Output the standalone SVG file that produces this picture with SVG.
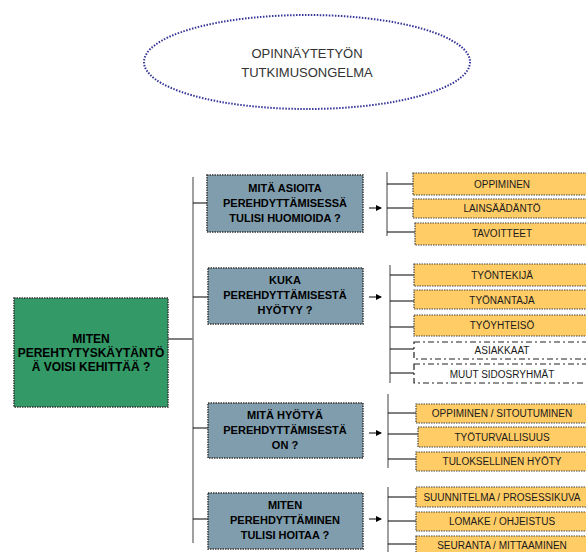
<svg xmlns="http://www.w3.org/2000/svg" width="586" height="552" viewBox="0 0 586 552">
<style>
.bg{fill:#ffffff}
.ell{fill:#ffffff;stroke:#333399;stroke-width:2;stroke-dasharray:1.5 1.5}
.et{font-family:"Liberation Sans",Arial,sans-serif;font-size:13px;fill:#333333;text-anchor:middle}
.green{fill:#339966;stroke:#333333;stroke-width:1.5;stroke-dasharray:1.5 1}
.blue{fill:#7F9DAD;stroke:#333333;stroke-width:1.5;stroke-dasharray:1.5 1}
.org{fill:#FFCC66;stroke:#444444;stroke-width:1.2;stroke-dasharray:1.5 1}
.dd{fill:#ffffff;stroke:#222222;stroke-width:1.2;stroke-dasharray:6 3 2 3}
.bt{font-family:"Liberation Sans",Arial,sans-serif;font-size:11px;font-weight:bold;fill:#000000;text-anchor:middle}
.gt{font-family:"Liberation Sans",Arial,sans-serif;font-size:12px;font-weight:bold;fill:#000000;text-anchor:middle}
.ot{font-family:"Liberation Sans",Arial,sans-serif;font-size:10px;fill:#1a1a1a;text-anchor:middle}
.trunk{stroke:#808080;stroke-width:1.5;fill:none}
.br{stroke:#000000;stroke-width:1;fill:none}
.arr{stroke:#000000;stroke-width:1;fill:none;marker-end:url(#ah)}
</style>
<defs>
<marker id="ah" markerWidth="6" markerHeight="6" refX="5" refY="3" orient="auto" markerUnits="userSpaceOnUse">
<path d="M0,0 L6,3 L0,6 Z" fill="#000000"/>
</marker>
</defs>
<rect class="bg" x="0" y="0" width="586" height="552"/>

<g id="connectors">
<line class="br" x1="168" y1="339" x2="193" y2="339"/>
<line class="trunk" x1="193" y1="177" x2="193" y2="543"/>
<line class="br" x1="193" y1="203" x2="207" y2="203"/>
<line class="br" x1="193" y1="297" x2="208" y2="297"/>
<line class="br" x1="193" y1="428" x2="208" y2="428"/>
<line class="br" x1="193" y1="519" x2="208" y2="519"/>
<line class="arr" x1="369" y1="208" x2="381" y2="208"/>
<line class="arr" x1="369" y1="297" x2="381" y2="297"/>
<line class="arr" x1="369" y1="433" x2="381" y2="433"/>
<line class="arr" x1="369" y1="519" x2="381" y2="519"/>
<line class="trunk" x1="387" y1="172" x2="387" y2="236"/>
<line class="br" x1="387" y1="184" x2="413" y2="184"/>
<line class="br" x1="387" y1="208" x2="413" y2="208"/>
<line class="br" x1="387" y1="232" x2="415" y2="232"/>
<line class="trunk" x1="390" y1="265" x2="390" y2="383"/>
<line class="br" x1="390" y1="275" x2="414" y2="275"/>
<line class="br" x1="390" y1="301" x2="414" y2="301"/>
<line class="br" x1="390" y1="327" x2="414" y2="327"/>
<line class="br" x1="390" y1="349" x2="414" y2="349"/>
<line class="br" x1="390" y1="373" x2="414" y2="373"/>
<line class="trunk" x1="388" y1="394" x2="388" y2="468"/>
<line class="br" x1="388" y1="413" x2="416" y2="413"/>
<line class="br" x1="388" y1="434" x2="418" y2="434"/>
<line class="br" x1="388" y1="459" x2="416" y2="459"/>
<line class="trunk" x1="388" y1="487" x2="388" y2="552"/>
<line class="br" x1="388" y1="497" x2="416" y2="497"/>
<line class="br" x1="388" y1="521" x2="416" y2="521"/>
<line class="br" x1="388" y1="544" x2="416" y2="544"/>
</g>

<g id="problem">
<ellipse class="ell" cx="307" cy="62" rx="163" ry="47"/>
<text class="et" x="307" y="58">OPINNÄYTETYÖN</text>
<text class="et" x="307" y="77">TUTKIMUSONGELMA</text>
</g>

<g id="root">
<rect class="green" x="14" y="298" width="154" height="109"/>
<text class="gt" x="91" y="343">MITEN</text>
<text class="gt" x="91" y="357">PEREHTYTYSKÄYTÄNTÖ</text>
<text class="gt" x="91" y="371">Ä VOISI KEHITTÄÄ ?</text>
</g>

<g id="q1">
<rect class="blue" x="207" y="175" width="156" height="57"/>
<text class="bt" x="285" y="192">MITÄ ASIOITA</text>
<text class="bt" x="285" y="207">PEREHDYTTÄMISESSÄ</text>
<text class="bt" x="285" y="222">TULISI HUOMIOIDA ?</text>
</g>
<g id="q2">
<rect class="blue" x="208" y="268" width="155" height="56"/>
<text class="bt" x="285" y="284">KUKA</text>
<text class="bt" x="285" y="299">PEREHDYTTÄMISESTÄ</text>
<text class="bt" x="285" y="314">HYÖTYY ?</text>
</g>
<g id="q3">
<rect class="blue" x="208" y="403" width="155" height="55"/>
<text class="bt" x="285" y="419">MITÄ HYÖTYÄ</text>
<text class="bt" x="285" y="434">PEREHDYTTÄMISESTÄ</text>
<text class="bt" x="285" y="449">ON ?</text>
</g>
<g id="q4">
<rect class="blue" x="208" y="493" width="155" height="56"/>
<text class="bt" x="285" y="509">MITEN</text>
<text class="bt" x="285" y="524">PEREHDYTTÄMINEN</text>
<text class="bt" x="285" y="539">TULISI HOITAA ?</text>
</g>

<g id="a1">
<rect class="org" x="413" y="173" width="180" height="22"/>
<text class="ot" x="502" y="188">OPPIMINEN</text>
</g>
<g id="a2">
<rect class="org" x="413" y="199" width="180" height="19"/>
<text class="ot" x="502" y="212">LAINSÄÄDÄNTÖ</text>
</g>
<g id="a3">
<rect class="org" x="415" y="223" width="180" height="22"/>
<text class="ot" x="502" y="237">TAVOITTEET</text>
</g>

<g id="b1">
<rect class="org" x="414" y="264" width="180" height="22"/>
<text class="ot" x="502" y="279">TYÖNTEKIJÄ</text>
</g>
<g id="b2">
<rect class="org" x="414" y="290" width="180" height="19"/>
<text class="ot" x="502" y="304">TYÖNANTAJA</text>
</g>
<g id="b3">
<rect class="org" x="414" y="315" width="180" height="21"/>
<text class="ot" x="502" y="329">TYÖYHTEISÖ</text>
</g>
<g id="b4">
<rect class="dd" x="414" y="342" width="180" height="17"/>
<text class="ot" x="502" y="354">ASIAKKAAT</text>
</g>
<g id="b5">
<rect class="dd" x="414" y="364" width="180" height="19"/>
<text class="ot" x="502" y="378">MUUT SIDOSRYHMÄT</text>
</g>

<g id="c1">
<rect class="org" x="416" y="404" width="180" height="19"/>
<text class="ot" x="502" y="417">OPPIMINEN / SITOUTUMINEN</text>
</g>
<g id="c2">
<rect class="org" x="418" y="427" width="180" height="20"/>
<text class="ot" x="502" y="441">TYÖTURVALLISUUS</text>
</g>
<g id="c3">
<rect class="org" x="416" y="452" width="180" height="19"/>
<text class="ot" x="502" y="465">TULOKSELLINEN HYÖTY</text>
</g>

<g id="d1">
<rect class="org" x="416" y="487" width="180" height="20"/>
<text class="ot" x="502" y="501">SUUNNITELMA / PROSESSIKUVA</text>
</g>
<g id="d2">
<rect class="org" x="416" y="512" width="180" height="19"/>
<text class="ot" x="502" y="525">LOMAKE / OHJEISTUS</text>
</g>
<g id="d3">
<rect class="org" x="416" y="536" width="180" height="22"/>
<text class="ot" x="502" y="549">SEURANTA / MITTAAMINEN</text>
</g>
</svg>
